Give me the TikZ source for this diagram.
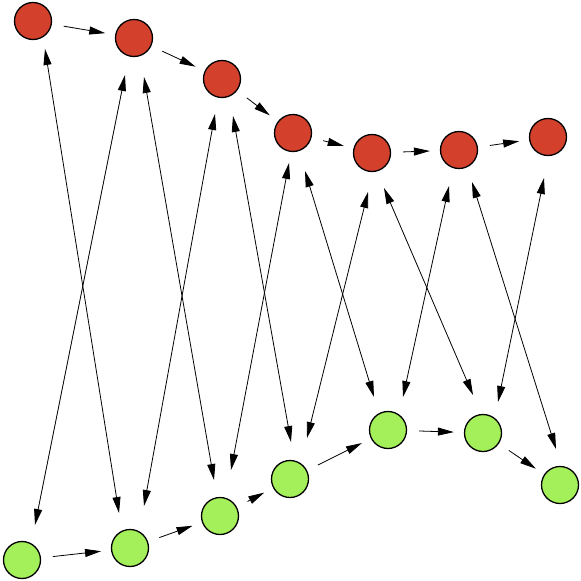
\documentclass[tikz,border=0pt]{standalone}
\usetikzlibrary{arrows.meta}
\definecolor{topred}{RGB}{211,65,45}
\definecolor{botgreen}{RGB}{163,240,90}
\tikzset{
  state/.style={circle, draw=black, line width=1.3pt, minimum size=37pt, inner sep=0pt},
  redstate/.style={state, fill=topred},
  greenstate/.style={state, fill=botgreen},
  chain/.style={-{Triangle[length=16pt,width=8pt]}, line width=0.8pt, shorten <=12pt, shorten >=10pt},
  link/.style={{Triangle[length=16pt,width=8pt]}-{Triangle[length=16pt,width=8pt]}, line width=0.8pt}
}
\begin{document}
\begin{tikzpicture}[x=1pt, y=-1pt]
\useasboundingbox (0,0) rectangle (581,581);
% Top row
\node[redstate] (r1) at (33,21) {};
\node[redstate] (r2) at (134,38) {};
\node[redstate] (r3) at (222,79) {};
\node[redstate] (r4) at (293,133) {};
\node[redstate] (r5) at (372,153) {};
\node[redstate] (r6) at (459,150) {};
\node[redstate] (r7) at (548,137) {};
% Bottom row
\node[greenstate] (g1) at (22,560) {};
\node[greenstate] (g2) at (130,548) {};
\node[greenstate] (g3) at (220,516) {};
\node[greenstate] (g4) at (290,479) {};
\node[greenstate] (g5) at (388,430) {};
\node[greenstate] (g6) at (483,433) {};
\node[greenstate] (g7) at (560,485) {};
% Arrows along each row
\foreach \i/\j in {1/2,2/3,3/4,4/5,5/6,6/7} {
  \draw[chain] (r\i) -- (r\j);
  \draw[chain] (g\i) -- (g\j);
}
% Links between the rows (top node, bottom node, offsets of the tips)
\foreach \a/\b/\ax/\ay/\bx/\by in {
  r1/g2/12/28/-11/-35, r2/g1/-9/37/13/-35,
  r2/g3/10/39/-6/-36,  r3/g2/-7/35/14/-42,
  r3/g4/11/37/1/-37,   r4/g3/-4/30/11/-46,
  r4/g5/12/38/-14/-33, r5/g4/-4/39/17/-41,
  r5/g6/12/35/-10/-38, r6/g5/-10/36/15/-33,
  r6/g7/13/32/-4/-36,  r7/g6/-4/41/15/-31} {
  \draw[link] ([shift={(\ax,\ay)}]\a.center) -- ([shift={(\bx,\by)}]\b.center);
}
\end{tikzpicture}
\end{document}
